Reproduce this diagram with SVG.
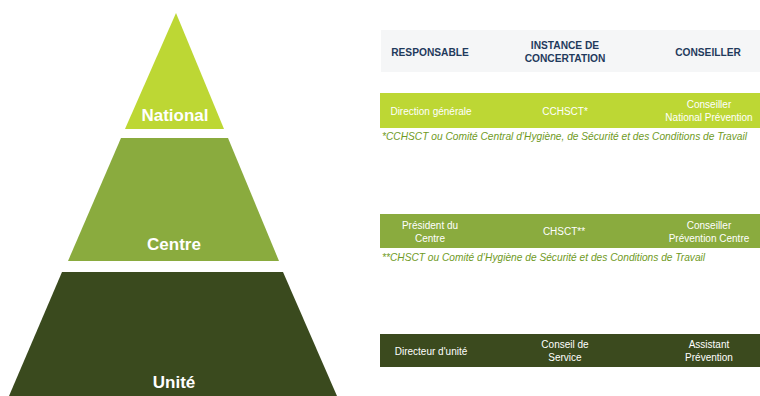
<svg xmlns="http://www.w3.org/2000/svg" width="760" height="396" viewBox="0 0 760 396">
<style>
.lvl{font-family:"Liberation Sans",Arial,sans-serif;font-weight:bold;font-size:17px;fill:#fff;text-anchor:middle}
.hd{font-family:"Liberation Sans",Arial,sans-serif;font-weight:bold;font-size:10.2px;fill:#1f3a5c;text-anchor:middle}
.cell{font-family:"Liberation Sans",Arial,sans-serif;font-size:10px;fill:#fff;text-anchor:middle}
.note{font-family:"Liberation Sans",Arial,sans-serif;font-style:italic;font-size:10.2px;fill:#6f9a24}
</style>
<rect width="760" height="396" fill="#fff"/>
<g id="national">
<polygon points="176,13 224,129 125,129" fill="#bdd734"/>
<text class="lvl" x="175" y="121">National</text>
</g>
<g id="centre">
<polygon points="121,138 228,138 279,261 68,261" fill="#8aab3e"/>
<text class="lvl" x="174" y="250">Centre</text>
</g>
<g id="unite">
<polygon points="62,272 283,272 337,396 9,396" fill="#3a4a1e"/>
<text class="lvl" x="174" y="388">Unité</text>
</g>
<g id="header">
<rect x="381" y="30" width="379" height="42" fill="#f5f6f7"/>
<text class="hd" x="430" y="56">RESPONSABLE</text>
<text class="hd" x="565" y="49">INSTANCE DE</text>
<text class="hd" x="565" y="62">CONCERTATION</text>
<text class="hd" x="708" y="56">CONSEILLER</text>
</g>
<g id="row-national">
<rect x="380" y="93" width="380" height="35" fill="#bdd734"/>
<text class="cell" x="431" y="115">Direction générale</text>
<text class="cell" x="565" y="115">CCHSCT*</text>
<text class="cell" x="709" y="108">Conseiller</text>
<text class="cell" x="709" y="121">National Prévention</text>
<text class="note" x="382" y="140">*CCHSCT ou Comité Central d’Hygiène, de Sécurité et des Conditions de Travail</text>
</g>
<g id="row-centre">
<rect x="380" y="214" width="380" height="34" fill="#8aab3e"/>
<text class="cell" x="430" y="229">Président du</text>
<text class="cell" x="430" y="242">Centre</text>
<text class="cell" x="564" y="235">CHSCT**</text>
<text class="cell" x="709" y="229">Conseiller</text>
<text class="cell" x="709" y="242">Prévention Centre</text>
<text class="note" x="382" y="261">**CHSCT ou Comité d’Hygiène de Sécurité et des Conditions de Travail</text>
</g>
<g id="row-unite">
<rect x="380" y="334" width="380" height="33" fill="#3b4a1e"/>
<text class="cell" x="431" y="355">Directeur d'unité</text>
<text class="cell" x="565" y="348">Conseil de</text>
<text class="cell" x="565" y="361">Service</text>
<text class="cell" x="709" y="348">Assistant</text>
<text class="cell" x="709" y="361">Prévention</text>
</g>
<g id="connectors"/>
</svg>
